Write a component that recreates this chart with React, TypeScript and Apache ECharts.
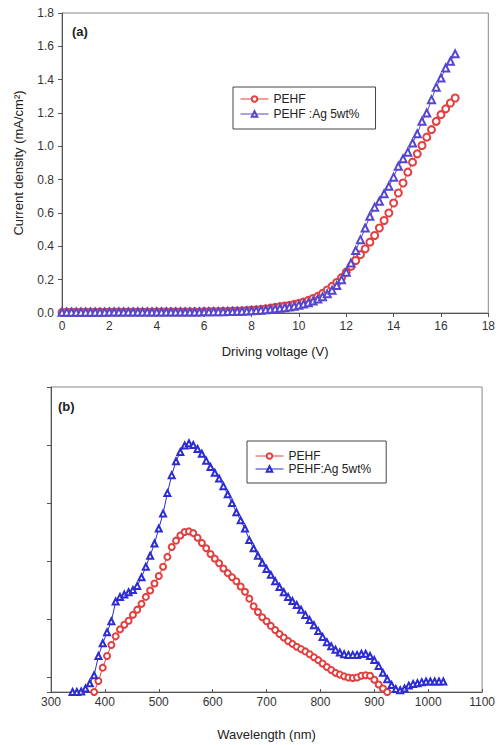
import React, { useEffect, useRef } from "react";
import * as echarts from "echarts";

// (a) J-V data
const voltage = [0,0.2,0.4,0.6,0.8,1,1.2,1.4,1.6,1.8,2,2.2,2.4,2.6,2.8,3,3.2,3.4,3.6,3.8,4,4.2,4.4,4.6,4.8,5,5.2,5.4,5.6,5.8,6,6.2,6.4,6.6,6.8,7,7.2,7.4,7.6,7.8,8,8.2,8.4,8.6,8.8,9,9.2,9.4,9.6,9.8,10,10.2,10.4,10.6,10.8,11,11.2,11.4,11.6,11.8,12,12.2,12.4,12.6,12.8,13,13.2,13.4,13.6,13.8,14,14.2,14.4,14.6,14.8,15,15.2,15.4,15.6,15.8,16,16.2,16.4,16.6];
const jPEHF = [
  0.004,0.005,0.005,0.005,0.005,0.005,0.005,0.005,0.005,0.005,
  0.006,0.006,0.006,0.006,0.006,0.006,0.006,0.006,0.006,0.006,
  0.007,0.007,0.007,0.007,0.007,0.007,0.007,0.007,0.007,0.007,
  0.008,0.008,0.009,0.009,0.010,0.010,0.011,0.012,0.013,0.015,
  0.017,0.019,0.022,0.025,0.029,0.034,0.038,0.042,0.046,0.052,
  0.058,0.066,0.076,0.087,0.100,0.118,0.138,0.160,0.183,0.212,
  0.245,0.28,0.315,0.35,0.385,0.425,0.465,0.51,0.555,0.60,
  0.66,0.72,0.78,0.845,0.905,0.955,1.005,1.055,1.10,1.15,
  1.19,1.225,1.26,1.29
];
const jAg = [
  0.004,0.005,0.005,0.005,0.005,0.005,0.005,0.005,0.005,0.005,
  0.006,0.006,0.006,0.006,0.006,0.006,0.006,0.006,0.006,0.006,
  0.006,0.006,0.006,0.006,0.006,0.006,0.006,0.006,0.006,0.006,
  0.007,0.007,0.008,0.008,0.008,0.009,0.009,0.010,0.011,0.012,
  0.013,0.015,0.017,0.019,0.022,0.025,0.028,0.032,0.036,0.041,
  0.047,0.054,0.062,0.072,0.084,0.098,0.115,0.137,0.165,0.200,
  0.245,0.30,0.375,0.44,0.51,0.58,0.635,0.67,0.715,0.76,
  0.815,0.88,0.925,0.965,1.02,1.075,1.15,1.20,1.28,1.355,
  1.41,1.47,1.51,1.555
];

// (b) EL spectra data (arbitrary units)
const wavelength = [340,348,356,364,372,380,388,396,404,412,420,428,436,444,452,460,468,476,484,492,500,508,516,524,532,540,548,556,564,572,580,588,596,604,612,620,628,636,644,652,660,668,676,684,692,700,708,716,724,732,740,748,756,764,772,780,788,796,804,812,820,828,836,844,852,860,868,876,884,892,900,908,916,924,932,940,948,956,964,972,980,988,996,1004,1012,1020,1028];
const elAg = [
  -0.26,-0.26,-0.25,-0.2,-0.11,0.03,0.36,0.58,0.77,0.96,
  1.3,1.38,1.42,1.46,1.5,1.57,1.72,1.9,2.09,2.3,
  2.56,2.82,3.17,3.48,3.72,3.88,3.99,4.03,4.0,3.93,
  3.85,3.73,3.62,3.52,3.42,3.29,3.15,3.0,2.84,2.7,
  2.56,2.36,2.22,2.09,1.97,1.86,1.76,1.65,1.55,1.46,
  1.38,1.31,1.24,1.16,1.07,0.98,0.89,0.79,0.69,0.6,
  0.53,0.47,0.42,0.39,0.38,0.38,0.38,0.4,0.4,0.36,
  0.29,0.19,0.07,-0.04,-0.14,-0.21,-0.23,-0.2,-0.15,-0.12,
  -0.11,-0.09,-0.08,-0.08,-0.08,-0.08,-0.08
];
const elPEHF = [
  null,null,null,null,null,-0.26,-0.07,0.16,0.36,0.55,
  0.7,0.82,0.9,0.97,1.07,1.16,1.26,1.38,1.49,1.61,
  1.74,1.9,2.07,2.24,2.35,2.44,2.5,2.51,2.48,2.4,
  2.31,2.22,2.12,2.04,1.96,1.87,1.79,1.72,1.65,1.56,
  1.47,1.35,1.22,1.12,1.03,0.96,0.88,0.81,0.74,0.68,
  0.62,0.57,0.52,0.48,0.44,0.39,0.34,0.29,0.23,0.17,
  0.12,0.07,0.04,0.01,-0.01,-0.02,-0.01,0.02,0.03,0.02,
  -0.05,-0.13,-0.2,-0.26,null,null,null,null,null,null,
  null,null,null,null,null,null,null
];

const FONT = "Liberation Sans, Arial, sans-serif";
const RED = "#e24040";
const BLUE_A = "#5546d0";
const BLUE_B = "#2c2cd2";

export default function App() {
  const ref = useRef<HTMLDivElement>(null);
  useEffect(() => {
    if (!ref.current) return;
    const chart = echarts.init(ref.current, undefined, { renderer: "svg" });
    const axisLine = { onZero: false, lineStyle: { color: "#555", width: 1 } };
    const pair = (xs: number[], ys: (number | null)[]) =>
      xs.map((x, i) => [x, ys[i]]).filter((p) => p[1] !== null);
    const legendBase = {
      orient: "vertical",
      borderColor: "#444", borderWidth: 1, borderRadius: 0,
      itemWidth: 28, itemHeight: 7,
      itemStyle: { borderWidth: 1 },
      lineStyle: { width: 1 },
      textStyle: { fontSize: 12, color: "#222", fontFamily: FONT },
      selectedMode: false,
    };
    chart.setOption({
      animation: false,
      textStyle: { fontFamily: FONT },
      grid: [
        { left: 62, top: 13, width: 429, height: 300, show: true, borderColor: "#888", borderWidth: 1 },
        { left: 51, top: 387, width: 434, height: 305, show: true, borderColor: "#888", borderWidth: 1 },
      ],
      xAxis: [
        {
          gridIndex: 0, type: "value", min: 0, max: 18, interval: 2,
          axisLine, axisTick: { length: 4, lineStyle: { color: "#555" } },
          axisLabel: { color: "#333", fontSize: 12, margin: 7, fontFamily: FONT },
          splitLine: { show: false },
          name: "Driving voltage (V)", nameLocation: "middle", nameGap: 32,
          nameTextStyle: { fontSize: 13, color: "#222", fontFamily: FONT },
        },
        {
          gridIndex: 1, type: "value", min: 300, max: 1100, interval: 100,
          axisLine, axisTick: { inside: true, length: 3, lineStyle: { color: "#555" } },
          axisLabel: { color: "#333", fontSize: 12, margin: 4, fontFamily: FONT, formatter: (v: number) => String(v) },
          splitLine: { show: false },
          name: "Wavelength (nm)", nameLocation: "middle", nameGap: 36,
          nameTextStyle: { fontSize: 13, color: "#222", fontFamily: FONT },
        },
      ],
      yAxis: [
        {
          gridIndex: 0, type: "value", min: 0, max: 1.8, interval: 0.2,
          axisLine, axisTick: { length: 4, lineStyle: { color: "#555" } },
          axisLabel: { color: "#333", fontSize: 12, margin: 8, fontFamily: FONT, formatter: (v: number) => v.toFixed(1) },
          splitLine: { show: false },
          name: "Current density (mA/cm²)", nameLocation: "middle", nameGap: 37,
          nameTextStyle: { fontSize: 13, color: "#222", fontFamily: FONT },
        },
        {
          gridIndex: 1, type: "value", min: -0.26, max: 5,
          axisLine, axisTick: { length: 4, lineStyle: { color: "#555" } },
          axisLabel: { show: false },
          splitLine: { show: false },
        },
      ],
      legend: [
        {
          ...legendBase, left: 233, top: 87,
          data: ["PEHF", "PEHF :Ag 5wt%"],
          padding: [6, 16, 9, 7], itemGap: 3,
        },
        {
          ...legendBase, left: 247, top: 441,
          data: ["PEHF", "PEHF:Ag 5wt%"],
          padding: [9, 15, 8, 8], itemGap: 1,
        },
      ],
      graphic: [
        { type: "text", left: 72, top: 25, style: { text: "(a)", font: `bold 13px ${FONT}`, fill: "#222" } },
        { type: "text", left: 58, top: 400, style: { text: "(b)", font: `bold 13px ${FONT}`, fill: "#222" } },
      ],
      series: [
        {
          name: "PEHF", type: "line", xAxisIndex: 0, yAxisIndex: 0,
          data: pair(voltage, jPEHF), symbol: "emptyCircle", symbolSize: 7,
          lineStyle: { color: RED, width: 1 }, itemStyle: { color: RED, borderWidth: 1 },
        },
        {
          name: "PEHF :Ag 5wt%", type: "line", xAxisIndex: 0, yAxisIndex: 0,
          data: pair(voltage, jAg), symbol: "emptyTriangle", symbolSize: 7,
          lineStyle: { color: BLUE_A, width: 1 }, itemStyle: { color: BLUE_A, borderWidth: 1 },
        },
        {
          name: "PEHF", type: "line", xAxisIndex: 1, yAxisIndex: 1,
          data: pair(wavelength, elPEHF), symbol: "emptyCircle", symbolSize: 6,
          lineStyle: { color: RED, width: 1 }, itemStyle: { color: RED, borderWidth: 1 },
        },
        {
          name: "PEHF:Ag 5wt%", type: "line", xAxisIndex: 1, yAxisIndex: 1,
          data: pair(wavelength, elAg), symbol: "emptyTriangle", symbolSize: 6,
          lineStyle: { color: BLUE_B, width: 1 }, itemStyle: { color: BLUE_B, borderWidth: 1 },
        },
      ],
    });
    return () => chart.dispose();
  }, []);
  return (
    <div
      ref={ref}
      style={{ position: "absolute", left: 0, top: 0, width: 498, height: 745, background: "#fff" }}
    />
  );
}
